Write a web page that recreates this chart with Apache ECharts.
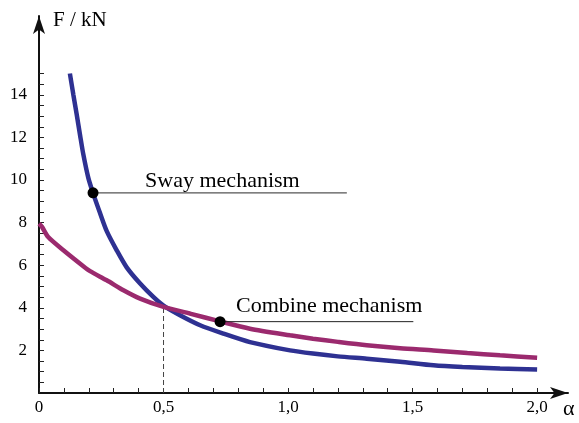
<!DOCTYPE html>
<html>
<head>
<meta charset="utf-8">
<script src="https://cdn.jsdelivr.net/npm/echarts@6/dist/echarts.min.js"></script>
<style>
html,body{margin:0;padding:0;background:#fff;}
#chart{width:579px;height:423px;}
</style>
</head>
<body>
<div id="chart"></div>
<script>
// ---- data ----
const swayCurve = [
  [0.124, 15.0], [0.138, 14.0], [0.151, 13.1], [0.165, 12.1], [0.178, 11.2],
  [0.198, 10.1], [0.218, 9.35], [0.245, 8.45], [0.272, 7.6],
  [0.312, 6.7], [0.352, 5.9], [0.406, 5.14], [0.459, 4.51], [0.5, 4.1],
  [0.566, 3.65], [0.647, 3.18], [0.74, 2.79], [0.847, 2.39], [1.008, 2.0],
  [1.1, 1.85], [1.2, 1.72], [1.316, 1.61], [1.45, 1.47], [1.584, 1.30],
  [1.7, 1.22], [1.851, 1.15], [2.0, 1.10]
];
const combineCurve = [
  [0.0, 7.95], [0.012, 7.8], [0.037, 7.32], [0.098, 6.70], [0.178, 5.95],
  [0.205, 5.72], [0.272, 5.29], [0.339, 4.82], [0.406, 4.43], [0.5, 4.04],
  [0.606, 3.73], [0.727, 3.36], [0.847, 3.02], [1.008, 2.71], [1.1, 2.55],
  [1.2, 2.4], [1.316, 2.24], [1.45, 2.1], [1.584, 2.0], [1.72, 1.88],
  [1.851, 1.77], [2.0, 1.66]
];
const intersection = [0.5, 4.04];
const swayMarker = [0.217, 9.4];
const combineMarker = [0.727, 3.35];
const swayLeaderEnd = 1.236;
const combineLeaderEnd = 1.503;
const swayTextStart = 0.426;
const combineTextStart = 0.791;
const swayText = 'Sway mechanism';
const combineText = 'Combine mechanism';
const xTickLabels = [0, 0.5, 1.0, 1.5, 2.0];
const yTickLabels = [2, 4, 6, 8, 10, 12, 14];
const xAxisName = 'α';
const yAxisName = 'F / kN';

// minor tick positions
const xTicks = [];
for (let i = 0; i <= 20; i++) xTicks.push(+(i * 0.1).toFixed(1));
const yTicks = [];
for (let i = 1; i <= 30; i++) yTicks.push(i * 0.5);

const FONT = 'Liberation Serif';
const chart = echarts.init(document.getElementById('chart'), null, {renderer: 'canvas'});
chart.setOption({
  animation: false,
  backgroundColor: '#ffffff',
  grid: {left: 39, right: 11, top: 16, bottom: 30, containLabel: false},
  xAxis: {
    type: 'value', min: 0, max: 2.124,
    axisLine: {show: true, lineStyle: {color: '#111', width: 2},
      symbol: ['none', 'arrow'], symbolSize: [9, 18]},
    axisTick: {show: true, inside: true, length: 5, customValues: xTicks,
      lineStyle: {color: '#222', width: 1}},
    axisLabel: {show: true, customValues: xTickLabels, margin: 6,
      fontFamily: FONT, fontSize: 17, color: '#000',
      formatter: v => v === 0 ? '0' : v.toFixed(1).replace('.', ',')},
    splitLine: {show: false},
    name: xAxisName, nameLocation: 'end', nameGap: -5,
    nameTextStyle: {fontFamily: FONT, fontSize: 22, color: '#000',
      align: 'left', verticalAlign: 'top', padding: [5, 0, 0, 0]}
  },
  yAxis: {
    type: 'value', min: 0, max: 17.7,
    axisLine: {show: true, lineStyle: {color: '#111', width: 2},
      symbol: ['none', 'arrow'], symbolSize: [9, 18]},
    axisTick: {show: true, inside: true, length: 5, customValues: yTicks,
      lineStyle: {color: '#222', width: 1}},
    axisLabel: {show: true, customValues: yTickLabels, margin: 12,
      fontFamily: FONT, fontSize: 17, color: '#000'},
    splitLine: {show: false},
    name: yAxisName, nameLocation: 'end', nameGap: -4,
    nameTextStyle: {fontFamily: FONT, fontSize: 21, color: '#000',
      align: 'left', verticalAlign: 'middle', padding: [0, 0, 0, 14]}
  },
  series: [
    {
      type: 'line', name: 'Sway', data: swayCurve, showSymbol: false, silent: true,
      smooth: 0.25, lineStyle: {color: '#2e3192', width: 4.5}, z: 2
    },
    {
      type: 'line', name: 'Combine', data: combineCurve, showSymbol: false, silent: true,
      smooth: 0.25, lineStyle: {color: '#9b2a6e', width: 4.5}, z: 3
    },
    {
      type: 'line', data: [[intersection[0], 0], intersection], showSymbol: false, silent: true,
      lineStyle: {color: '#444', width: 1, type: [5, 3]}, z: 1
    },
    {
      type: 'line', data: [swayMarker, [swayLeaderEnd, swayMarker[1]]], showSymbol: false, silent: true,
      lineStyle: {color: '#555', width: 1.2}, z: 4
    },
    {
      type: 'line', data: [combineMarker, [combineLeaderEnd, combineMarker[1]]], showSymbol: false, silent: true,
      lineStyle: {color: '#222', width: 1}, z: 4
    },
    {
      type: 'scatter', data: [swayMarker, combineMarker], symbolSize: 11, silent: true,
      itemStyle: {color: '#000', opacity: 1}, z: 5
    },
    {
      type: 'scatter', symbolSize: 0, silent: true, z: 6,
      itemStyle: {opacity: 1},
      data: [
        {value: [swayTextStart, swayMarker[1]], name: swayText, label: {distance: 1}},
        {value: [combineTextStart, combineMarker[1]], name: combineText, label: {distance: 4}}
      ],
      label: {show: true, position: 'top', align: 'left', formatter: p => p.name,
        fontFamily: FONT, fontSize: 22, color: '#000'}
    }
  ]
});
</script>
</body>
</html>
